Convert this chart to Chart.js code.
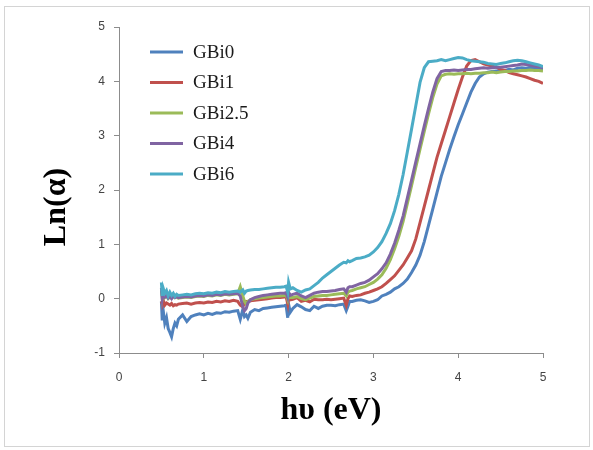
<!DOCTYPE html>
<html>
<head>
<meta charset="utf-8">
<title>Ln(α) vs hυ</title>
<script src="https://cdn.jsdelivr.net/npm/chart.js@4.4.0/dist/chart.umd.min.js"></script>
<style>
  html, body { margin: 0; padding: 0; background: #fff; }
  #chart { display: block; }
</style>
</head>
<body>
<canvas id="chart" width="593" height="450"></canvas>
<script>
// Photon energy (eV), shared by all samples
const energy = [
  0.50, 0.51, 0.52, 0.54, 0.56, 0.58, 0.60, 0.62, 0.64, 0.66, 0.68, 0.70,
  0.75, 0.80, 0.85, 0.90, 0.95, 1.00, 1.05, 1.10, 1.15, 1.20, 1.25, 1.30, 1.35, 1.40,
  1.43, 1.46, 1.48, 1.50, 1.52,
  1.55, 1.60, 1.65, 1.70, 1.75, 1.80, 1.85, 1.90, 1.95,
  1.97, 1.99, 2.00, 2.02,
  2.05, 2.10, 2.15, 2.20, 2.25, 2.30, 2.35, 2.40, 2.45, 2.50, 2.55, 2.60, 2.65,
  2.68, 2.70, 2.72,
  2.75, 2.80, 2.85, 2.90, 2.95, 3.00, 3.05, 3.10, 3.15, 3.20, 3.25, 3.30, 3.35, 3.40, 3.45,
  3.50, 3.55, 3.60, 3.65, 3.70, 3.75, 3.80, 3.85, 3.90, 3.95, 4.00, 4.05, 4.10, 4.15, 4.20,
  4.25, 4.30, 4.35, 4.40, 4.45, 4.50, 4.55, 4.60, 4.65, 4.70, 4.75, 4.80, 4.85, 4.90, 4.95, 5.00
];

// Ln(alpha) for each sample
const gbi0 = [
  -0.05, -0.40, -0.20, -0.45, -0.35, -0.55, -0.62, -0.70, -0.55, -0.45, -0.50, -0.38,
  -0.30, -0.42, -0.33, -0.30, -0.28, -0.30, -0.27, -0.29, -0.26, -0.27, -0.24, -0.25, -0.23, -0.22,
  -0.38, -0.20, -0.33, -0.30, -0.36,
  -0.25, -0.20, -0.22, -0.18, -0.17, -0.16, -0.15, -0.14, -0.13,
  -0.12, -0.35, -0.10, -0.25,
  -0.18, -0.11, -0.15, -0.20, -0.22, -0.14, -0.18, -0.14, -0.12, -0.12, -0.13, -0.11, -0.10,
  -0.22, -0.14, -0.05,
  -0.05, -0.03, -0.02, -0.04, -0.07, -0.05, -0.02, 0.05, 0.08, 0.12, 0.18, 0.22, 0.28, 0.36, 0.48,
  0.62, 0.80, 1.05, 1.35, 1.65, 1.95, 2.25, 2.50, 2.75, 2.98, 3.20, 3.40, 3.60, 3.80, 3.96,
  4.08, 4.14, 4.17, 4.18, 4.19, 4.20, 4.20, 4.22, 4.21, 4.24, 4.25, 4.24, 4.26, 4.25, 4.24, 4.22
];
const gbi1 = [
  -0.05, -0.10, -0.02, -0.12, -0.08, -0.10, -0.12, -0.09, -0.13, -0.11, -0.12, -0.10,
  -0.09, -0.08, -0.10, -0.08, -0.07, -0.08, -0.06, -0.07, -0.05, -0.06, -0.04, -0.05, -0.03, -0.05,
  -0.12, -0.15, -0.08, -0.05, -0.06,
  -0.04, -0.03, -0.02, -0.01, 0.00, 0.01, 0.02, 0.02, 0.03,
  0.04, -0.10, 0.03, -0.02,
  -0.01, 0.02, -0.05, -0.03, -0.06, -0.01, -0.02, -0.02, -0.01, -0.02, -0.01, 0.00, 0.01,
  -0.12, 0.00, 0.05,
  0.04, 0.06, 0.07, 0.10, 0.12, 0.15, 0.18, 0.22, 0.28, 0.35, 0.42, 0.52, 0.62, 0.75, 0.88,
  1.10, 1.40, 1.70, 2.00, 2.30, 2.60, 2.85, 3.10, 3.35, 3.60, 3.85, 4.08, 4.28, 4.38, 4.40,
  4.36, 4.32, 4.30, 4.28, 4.26, 4.22, 4.20, 4.16, 4.14, 4.12, 4.10, 4.08, 4.05, 4.02, 4.00, 3.96
];
const gbi25 = [
  0.15, 0.00, 0.08, 0.02, 0.05, 0.00, 0.03, 0.01, 0.04, 0.02, 0.03, 0.01,
  0.02, 0.03, 0.02, 0.04, 0.05, 0.04, 0.06, 0.05, 0.07, 0.06, 0.08, 0.07, 0.08, 0.09,
  0.22, 0.05, -0.05, -0.10, -0.05,
  -0.02, 0.00, 0.01, 0.02, 0.03, 0.04, 0.05, 0.05, 0.06,
  0.07, -0.02, 0.06, 0.02,
  0.02, 0.04, 0.00, -0.02, 0.01, 0.04, 0.05, 0.06, 0.06, 0.07, 0.08, 0.09, 0.10,
  0.05, 0.12, 0.14,
  0.15, 0.18, 0.20, 0.22, 0.26, 0.30, 0.36, 0.44, 0.56, 0.72, 0.92, 1.15, 1.42, 1.75, 2.08,
  2.42, 2.75, 3.08, 3.40, 3.70, 3.95, 4.10, 4.13, 4.14, 4.13, 4.14, 4.14, 4.15, 4.14, 4.15,
  4.15, 4.16, 4.16, 4.17, 4.16, 4.17, 4.18, 4.18, 4.19, 4.19, 4.20, 4.20, 4.21, 4.20, 4.20, 4.19
];
const gbi4 = [
  0.20, 0.00, 0.10, 0.03, 0.06, 0.01, 0.04, 0.00, 0.05, 0.02, 0.04, 0.02,
  0.03, 0.04, 0.03, 0.05, 0.06, 0.05, 0.07, 0.06, 0.08, 0.07, 0.09, 0.08, 0.09, 0.10,
  0.05, -0.15, -0.22, -0.18, -0.08,
  -0.02, 0.02, 0.04, 0.06, 0.07, 0.08, 0.09, 0.10, 0.10,
  0.11, 0.02, 0.12, 0.06,
  0.08, 0.10, 0.05, 0.02, 0.06, 0.10, 0.12, 0.13, 0.13, 0.14, 0.15, 0.17, 0.18,
  0.12, 0.20, 0.22,
  0.22, 0.25, 0.28, 0.30, 0.34, 0.40, 0.46, 0.55, 0.66, 0.82, 1.02, 1.26, 1.52, 1.85, 2.18,
  2.52, 2.85, 3.18, 3.50, 3.80, 4.05, 4.18, 4.20, 4.20, 4.21, 4.20, 4.21, 4.22, 4.22, 4.23,
  4.24, 4.25, 4.24, 4.25, 4.26, 4.26, 4.27, 4.28, 4.29, 4.30, 4.32, 4.31, 4.30, 4.28, 4.27, 4.25
];
const gbi6 = [
  0.30, 0.05, 0.20, 0.10, 0.15, 0.05, 0.12, 0.06, 0.10, 0.04, 0.08, 0.06,
  0.07, 0.08, 0.07, 0.09, 0.10, 0.09, 0.11, 0.10, 0.12, 0.11, 0.13, 0.12, 0.13, 0.14,
  0.12, 0.16, 0.10, 0.14, 0.15,
  0.16, 0.17, 0.17, 0.18, 0.19, 0.20, 0.21, 0.21, 0.22,
  0.23, 0.12, 0.30, 0.18,
  0.20, 0.15, 0.12, 0.16, 0.18, 0.24, 0.30, 0.38, 0.44, 0.50, 0.56, 0.62, 0.67,
  0.66, 0.70, 0.68,
  0.70, 0.74, 0.75, 0.77, 0.80, 0.86, 0.94, 1.05, 1.20, 1.38, 1.62, 1.92, 2.28, 2.70, 3.12,
  3.55, 3.98, 4.25, 4.36, 4.37, 4.38, 4.40, 4.38, 4.40, 4.42, 4.44, 4.43, 4.40, 4.38, 4.37,
  4.36, 4.35, 4.33, 4.32, 4.31, 4.33, 4.34, 4.36, 4.38, 4.39, 4.38, 4.36, 4.34, 4.32, 4.30, 4.27
];

const seriesLabels = ['GBi0', 'GBi1', 'GBi2.5', 'GBi4', 'GBi6'];
const seriesValues = [gbi0, gbi1, gbi25, gbi4, gbi6];
const seriesColors = ['#4F81BD', '#C0504D', '#9BBB59', '#8064A2', '#4BACC6'];

const xTitle = 'hυ (eV)';
const yTitle = 'Ln(α)';

const axisGray = '#8c8c8c';

// light frame around the whole figure, like the pasted Excel chart
const framePlugin = {
  id: 'frame',
  beforeDraw(chart) {
    const ctx = chart.ctx;
    ctx.save();
    ctx.fillStyle = '#fff';
    ctx.fillRect(0, 0, chart.width, chart.height);
    ctx.strokeStyle = '#d4d4d4';
    ctx.lineWidth = 1;
    ctx.strokeRect(4.5, 6.5, 585, 440);
    ctx.restore();
  }
};

// vertical title sits a bit below the centre of the plot in the original
const yTitlePlugin = {
  id: 'yTitle',
  afterDraw(chart) {
    const ctx = chart.ctx;
    ctx.save();
    ctx.translate(57, 207);
    ctx.rotate(-Math.PI / 2);
    ctx.font = 'bold 32px "Liberation Serif", "DejaVu Serif", serif';
    ctx.fillStyle = '#000';
    ctx.textAlign = 'center';
    ctx.textBaseline = 'middle';
    ctx.fillText(yTitle, 0, 0);
    ctx.restore();
  }
};

// legend drawn inside the plot, top left
const legendPlugin = {
  id: 'insideLegend',
  afterDraw(chart) {
    const ctx = chart.ctx;
    ctx.save();
    ctx.font = '19px "Liberation Serif", "DejaVu Serif", serif';
    ctx.textBaseline = 'middle';
    ctx.textAlign = 'left';
    chart.data.datasets.forEach((ds, i) => {
      const y = 52 + i * 30.5;
      ctx.strokeStyle = ds.borderColor;
      ctx.lineWidth = 3;
      ctx.beginPath();
      ctx.moveTo(150, y);
      ctx.lineTo(183, y);
      ctx.stroke();
      ctx.fillStyle = '#1a1a1a';
      ctx.fillText(ds.label, 193, y + 1);
    });
    ctx.restore();
  }
};

const datasets = seriesLabels.map((label, i) => ({
  label: label,
  data: energy.map((e, k) => ({ x: e, y: seriesValues[i][k] })),
  borderColor: seriesColors[i],
  backgroundColor: seriesColors[i],
  borderWidth: 3,
  pointRadius: 0,
  tension: 0,
  fill: false,
  order: seriesLabels.length - i   // GBi6 ends up on top, as in Excel
}));

const tickFont = { family: '"Liberation Sans", Arial, sans-serif', size: 12 };

new Chart(document.getElementById('chart').getContext('2d'), {
  type: 'line',
  data: { datasets: datasets },
  options: {
    responsive: false,
    animation: false,
    layout: { padding: { left: 0, top: 27, right: 50, bottom: 0 } },
    plugins: {
      legend: { display: false },
      tooltip: { enabled: false }
    },
    scales: {
      x: {
        type: 'linear',
        min: 0,
        max: 5,
        afterFit(scale) { scale.height = 97; },
        ticks: { stepSize: 1, color: '#444', font: tickFont, padding: 12, maxRotation: 0 },
        grid: { drawOnChartArea: false, drawTicks: true, tickLength: 5, color: axisGray },
        border: { display: true, color: axisGray, width: 1 },
        title: {
          display: true,
          text: xTitle,
          color: '#000',
          font: { family: '"Liberation Serif", "DejaVu Serif", serif', size: 32, weight: 'bold' },
          padding: { top: 0, bottom: 20 }
        }
      },
      y: {
        min: -1,
        max: 5,
        afterFit(scale) { scale.width = 119; },
        ticks: { stepSize: 1, color: '#444', font: tickFont, padding: 9 },
        grid: { drawOnChartArea: false, drawTicks: true, tickLength: 5, color: axisGray },
        border: { display: true, color: axisGray, width: 1 }
      }
    }
  },
  plugins: [framePlugin, yTitlePlugin, legendPlugin]
});
</script>
</body>
</html>
